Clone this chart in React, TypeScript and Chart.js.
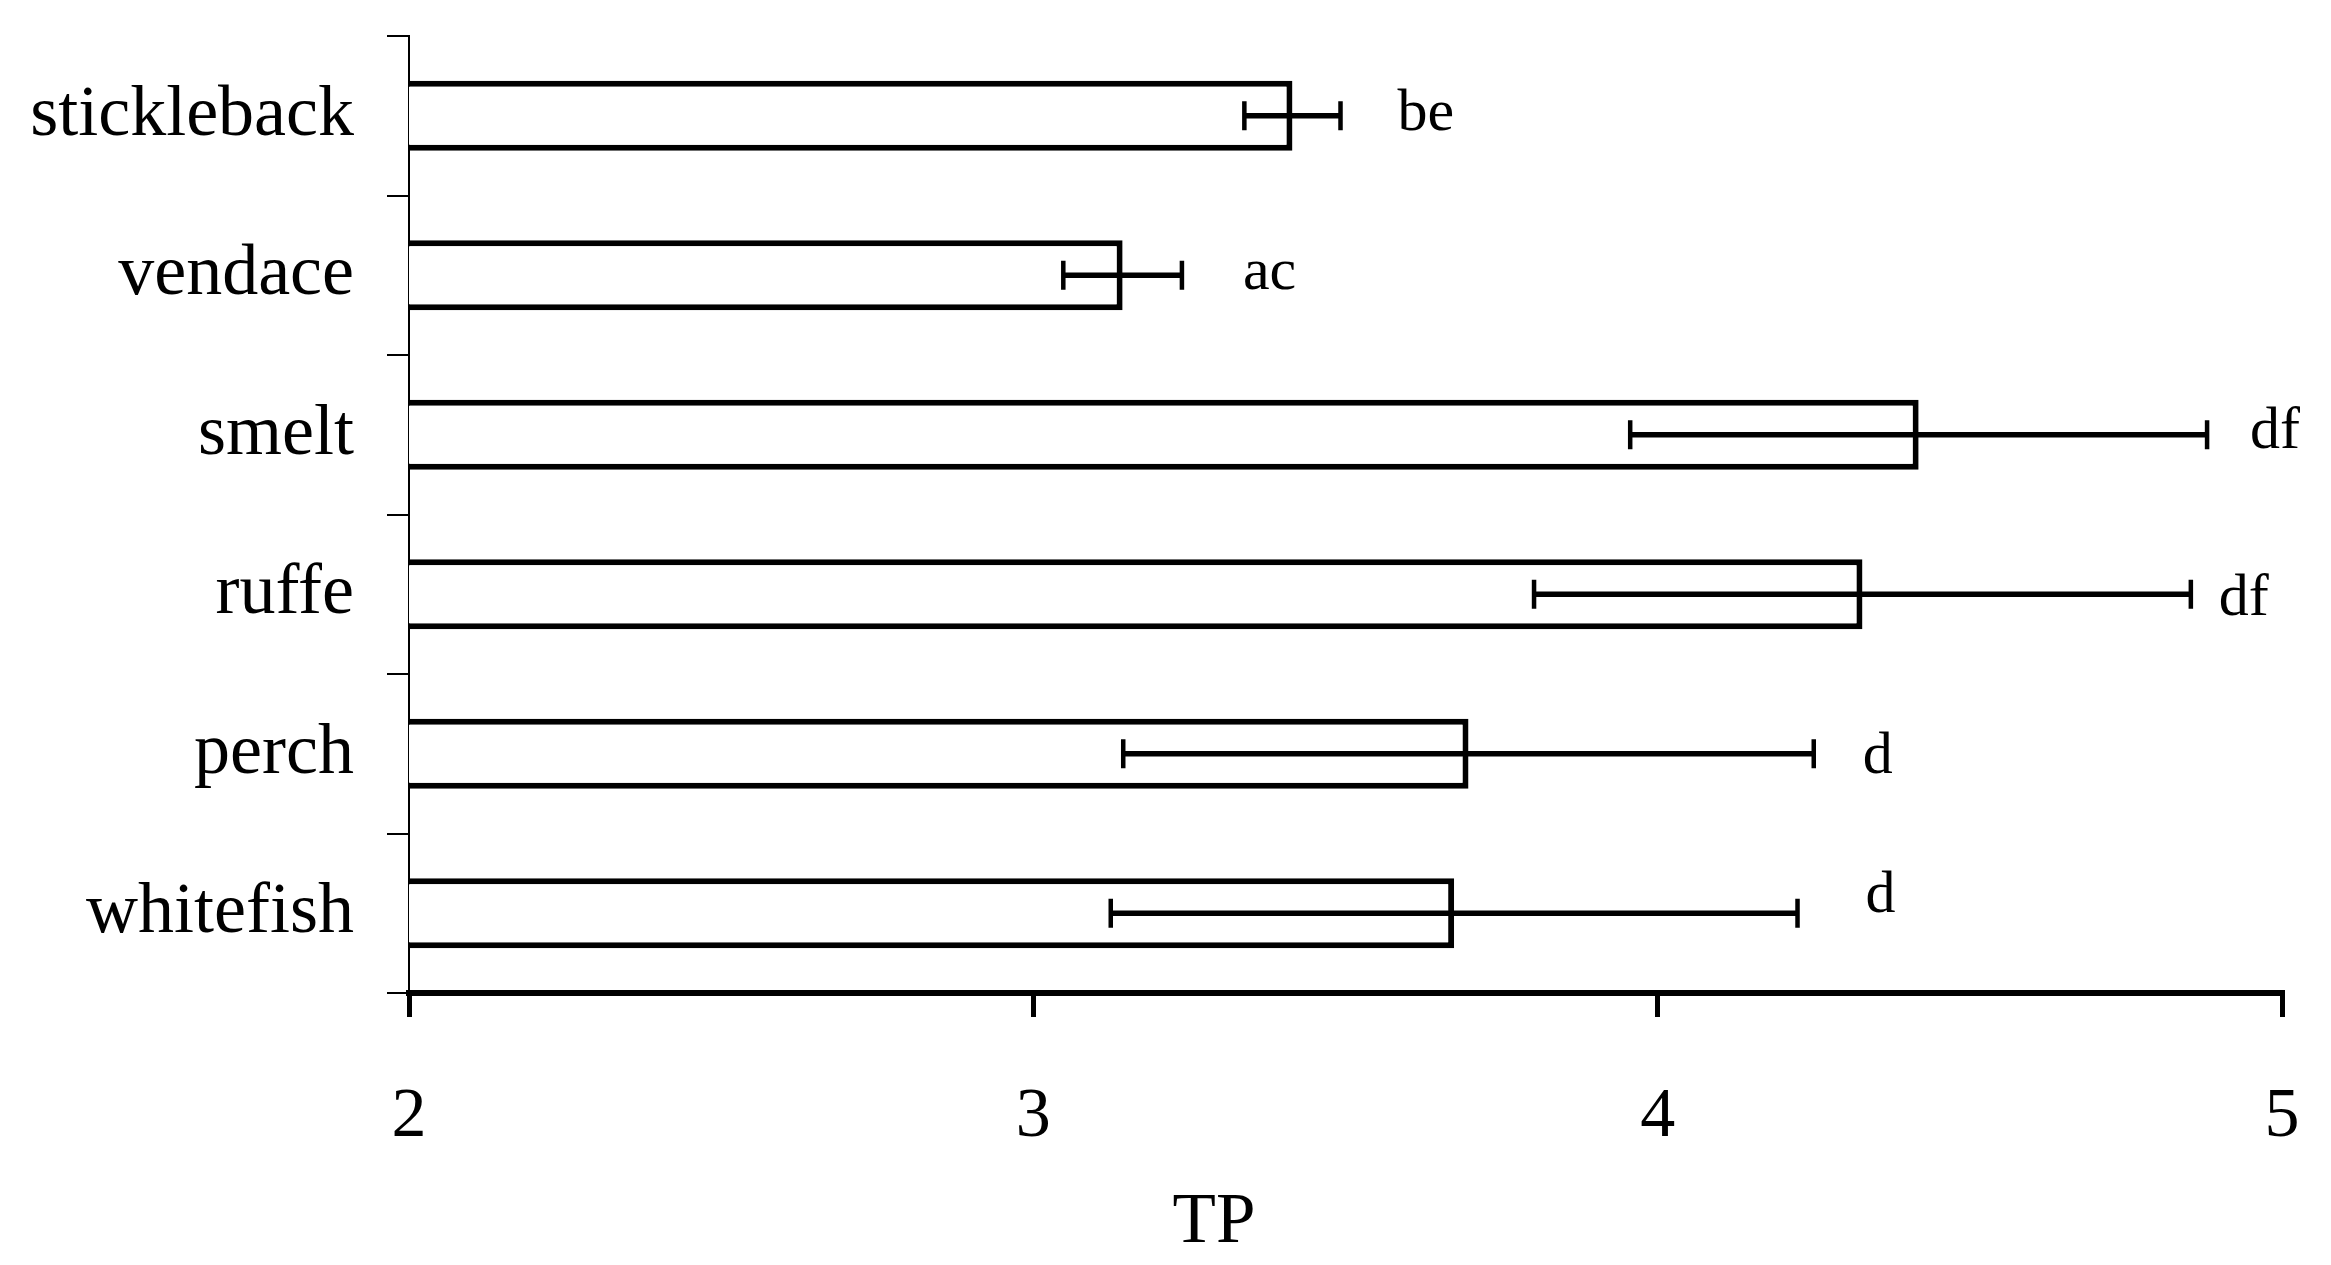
import React, { useEffect, useRef } from 'react';
import { Chart, registerables } from 'chart.js';

Chart.register(...registerables);

// ---- data ----
const categories = ['stickleback', 'vendace', 'smelt', 'ruffe', 'perch', 'whitefish'];
const tpMeans = [3.415, 3.143, 4.418, 4.328, 3.697, 3.674];
const tpErrors = [0.077, 0.095, 0.462, 0.526, 0.553, 0.55];
const groupLetters = ['be', 'ac', 'df', 'df', 'd', 'd'];
const xTickValues = [2, 3, 4, 5];
const xTitle = 'TP';

// ---- layout / style constants ----
const W = 2331;
const H = 1265;
const FONT = "'Liberation Serif', 'Times New Roman', serif";
const LABEL_DX = [57, 61, 43, 28, 49, 68];
const LABEL_DY = [14, 14, 13, 21, 19, -1];

const errorBarPlugin = {
  id: 'errorBarsAndLabels',
  afterDatasetsDraw(chart: any) {
    const ctx = chart.ctx;
    const meta = chart.getDatasetMeta(0);
    const xs = chart.scales.x;
    ctx.save();
    ctx.strokeStyle = '#000';
    ctx.fillStyle = '#000';
    ctx.lineCap = 'butt';
    meta.data.forEach((bar: any, i: number) => {
      const y = bar.y;
      const lo = xs.getPixelForValue(tpMeans[i] - tpErrors[i]);
      const hi = xs.getPixelForValue(tpMeans[i] + tpErrors[i]);
      const cap = 14.5;
      ctx.lineWidth = 5.5;
      ctx.beginPath();
      ctx.moveTo(lo, y);
      ctx.lineTo(hi, y);
      ctx.stroke();
      ctx.lineWidth = 4.5;
      ctx.beginPath();
      ctx.moveTo(lo, y - cap);
      ctx.lineTo(lo, y + cap);
      ctx.moveTo(hi, y - cap);
      ctx.lineTo(hi, y + cap);
      ctx.stroke();
      ctx.font = `60px ${FONT}`;
      ctx.textAlign = 'left';
      ctx.textBaseline = 'alphabetic';
      ctx.fillText(groupLetters[i], hi + LABEL_DX[i], y + LABEL_DY[i]);
    });
    ctx.font = `71px ${FONT}`;
    ctx.textAlign = 'center';
    ctx.textBaseline = 'alphabetic';
    ctx.fillText(xTitle, chart.width * 0.5208, chart.chartArea.bottom + 249);
    ctx.restore();
  },
};

export default function App() {
  const canvasRef = useRef<HTMLCanvasElement | null>(null);

  useEffect(() => {
    document.body.style.margin = '0';
    document.body.style.overflow = 'hidden';
    const canvas = canvasRef.current;
    if (!canvas) return;
    const chart = new Chart(canvas, {
      type: 'bar',
      data: {
        labels: categories,
        datasets: [
          {
            label: 'TP',
            data: tpMeans,
            backgroundColor: '#ffffff',
            borderColor: '#000000',
            borderWidth: { top: 6, bottom: 6, right: 6, left: 3 },
            borderSkipped: false,
            barPercentage: 0.44,
            categoryPercentage: 1.0,
          },
        ],
      },
      options: {
        indexAxis: 'y',
        responsive: false,
        animation: false,
        devicePixelRatio: 1,
        layout: { padding: { top: 36, right: 49, bottom: 0, left: 0 } },
        plugins: {
          legend: { display: false },
          tooltip: { enabled: false },
          title: { display: false },
        },
        scales: {
          x: {
            type: 'linear',
            min: 2,
            max: 5,
            afterBuildTicks: (s: any) => {
              s.ticks = xTickValues.map((v) => ({ value: v }));
            },
            afterFit: (s: any) => {
              s.height = 272;
              s.paddingLeft = 0;
              s.paddingRight = 0;
              s.paddingTop = 0;
              s.paddingBottom = 0;
            },
            grid: {
              drawOnChartArea: false,
              drawTicks: true,
              tickLength: 24,
              lineWidth: 5,
              color: '#000',
            },
            border: { display: true, width: 6, color: '#000' },
            ticks: {
              font: { family: FONT, size: 70 },
              color: '#000',
              padding: 59,
              maxRotation: 0,
              autoSkip: false,
            },
          },
          y: {
            type: 'category',
            afterFit: (s: any) => {
              s.width = 409;
              s.paddingLeft = 0;
              s.paddingRight = 0;
              s.paddingTop = 0;
              s.paddingBottom = 0;
            },
            grid: {
              offset: true,
              drawOnChartArea: false,
              drawTicks: true,
              tickLength: 22,
              lineWidth: 2,
              color: '#000',
            },
            border: { display: true, width: 2, color: '#000' },
            ticks: {
              font: { family: FONT, size: 72 },
              color: '#000',
              padding: 33,
              autoSkip: false,
            },
          },
        },
      },
      plugins: [errorBarPlugin],
    } as any);
    return () => chart.destroy();
  }, []);

  return (
    <canvas
      ref={canvasRef}
      width={W}
      height={H}
      style={{ display: 'block', width: W, height: H }}
    />
  );
}
